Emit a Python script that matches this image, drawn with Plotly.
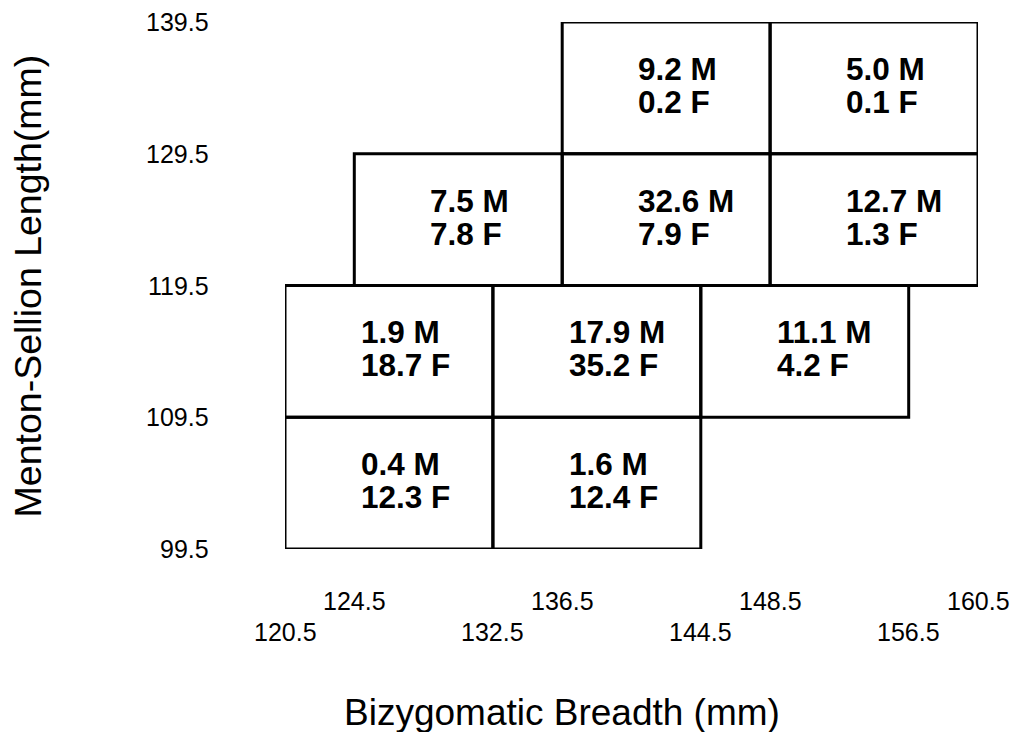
import plotly.graph_objects as go

# bin edges (lower-left corner of each cell), bin size
breadth_lo = [120.5, 132.5, 120.5, 132.5, 144.5, 124.5, 136.5, 148.5, 136.5, 148.5]
length_lo = [99.5, 99.5, 109.5, 109.5, 109.5, 119.5, 119.5, 119.5, 129.5, 129.5]
bin_w = 12
bin_h = 10

# percent of males / females in each cell
male_pct = [0.4, 1.6, 1.9, 17.9, 11.1, 7.5, 32.6, 12.7, 9.2, 5.0]
female_pct = [12.3, 12.4, 18.7, 35.2, 4.2, 7.8, 7.9, 1.3, 0.2, 0.1]

x_ticks_top = [124.5, 136.5, 148.5, 160.5]
x_ticks_bottom = [120.5, 132.5, 144.5, 156.5]
y_ticks = [99.5, 109.5, 119.5, 129.5, 139.5]

FONT = "Liberation Sans, Arial, sans-serif"
tick_font = dict(family=FONT, size=25, color="black")
cell_font = dict(family=FONT, size=31.5, color="black", weight="bold")

fig = go.Figure()
# invisible trace so the axes exist
fig.add_trace(go.Scatter(x=[120.5, 160.5], y=[99.5, 139.5], mode="markers",
                         marker=dict(opacity=0), hoverinfo="skip", showlegend=False))

for x0, y0, m, f in zip(breadth_lo, length_lo, male_pct, female_pct):
    fig.add_shape(type="rect", x0=x0, x1=x0 + bin_w, y0=y0, y1=y0 + bin_h,
                  line=dict(color="black", width=3), layer="above")
    # two lines set close together (tighter than plotly's <br> spacing)
    fig.add_annotation(x=x0 + bin_w * 0.355, y=y0 + bin_h / 2, text=f"{m:.1f} M",
                       xanchor="left", yanchor="middle", yshift=19, showarrow=False,
                       font=cell_font)
    fig.add_annotation(x=x0 + bin_w * 0.355, y=y0 + bin_h / 2, text=f"{f:.1f} F",
                       xanchor="left", yanchor="middle", yshift=-14, showarrow=False,
                       font=cell_font)

# staggered x tick labels
for v in x_ticks_top:
    fig.add_annotation(x=v, y=0, xref="x", yref="paper", text=f"{v:.1f}", showarrow=False,
                       yanchor="middle", yshift=-52, font=tick_font)
for v in x_ticks_bottom:
    fig.add_annotation(x=v, y=0, xref="x", yref="paper", text=f"{v:.1f}", showarrow=False,
                       yanchor="middle", yshift=-83, font=tick_font)

# y tick labels, set well away from the boxes
for v in y_ticks:
    fig.add_annotation(x=0, y=v, xref="paper", yref="y", text=f"{v:.1f}", showarrow=False,
                       xanchor="right", yanchor="middle", xshift=-74, font=tick_font)

# axis titles
fig.add_annotation(x=0.3997, y=0, xref="paper", yref="paper", yshift=-163,
                   text="Bizygomatic Breadth (mm)", showarrow=False, yanchor="middle",
                   font=dict(family=FONT, size=37, color="black"))
fig.add_annotation(x=-0.371, y=0.5, xref="paper", yref="paper", textangle=-90,
                   text="Menton-Sellion Length(mm)", showarrow=False,
                   xanchor="center", yanchor="middle",
                   font=dict(family=FONT, size=37.5, color="black"))

fig.update_xaxes(range=[120.5, 160.5], showgrid=False, zeroline=False, showline=False,
                 showticklabels=False, ticks="", automargin=False)
fig.update_yaxes(range=[99.5, 139.5], showgrid=False, zeroline=False, showline=False,
                 showticklabels=False, ticks="", automargin=False)

# page body adds 8px on the left/top, so the figure is 8px smaller
fig.update_layout(width=1011, height=724, margin=dict(l=277, r=41, t=14, b=183),
                  plot_bgcolor="white", paper_bgcolor="white", showlegend=False)

fig.write_html("out.html")
